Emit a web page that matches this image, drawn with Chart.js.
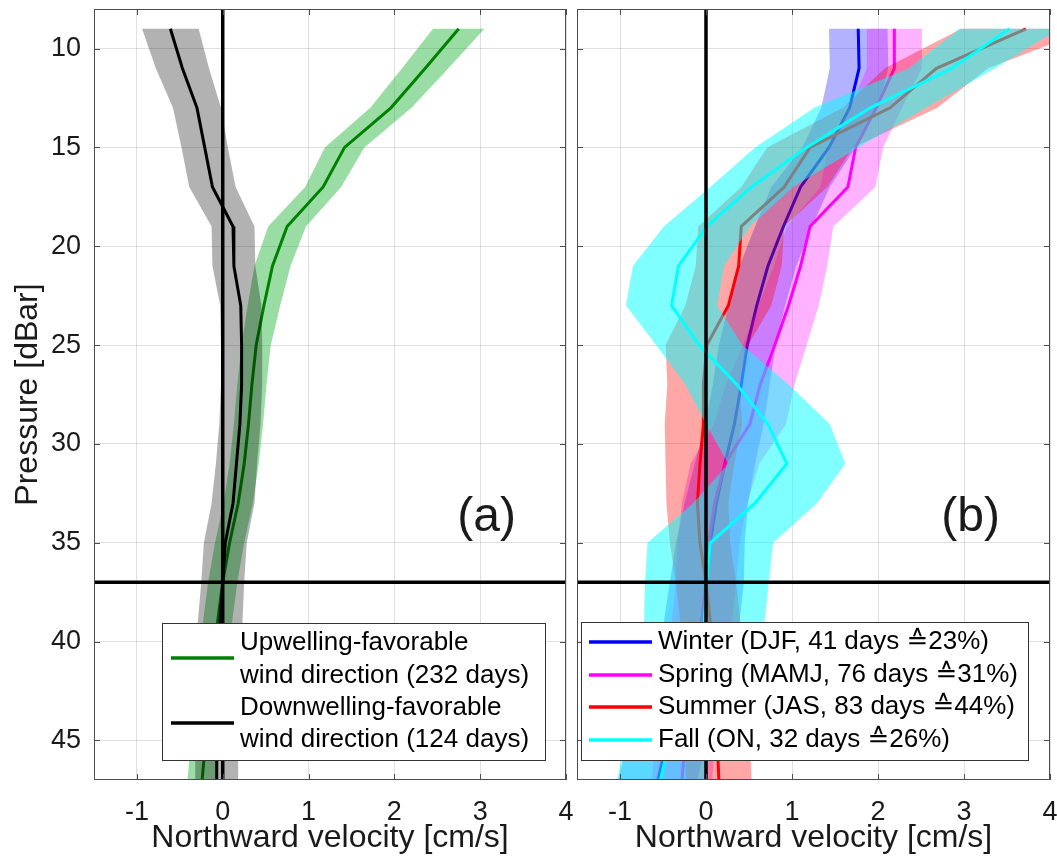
<!DOCTYPE html>
<html>
<head>
<meta charset="utf-8">
<script src="https://cdn.jsdelivr.net/npm/chart.js@4.4.1/dist/chart.umd.min.js"></script>
<style>
  html, body { margin: 0; padding: 0; background: #fff; overflow: hidden; }
  #wrap { position: relative; width: 1057px; height: 865px; }
  canvas { position: absolute; top: 0; }
  #left { left: 0; }
  #right { left: 576px; }
</style>
</head>
<body>
<div id="wrap">
  <canvas id="left" width="576" height="865"></canvas>
  <canvas id="right" width="484" height="865"></canvas>
</div>
<script>
// pressure levels of the profiles [dBar]
const depth = [9, 11, 13, 15, 17, 19, 21, 23, 25, 27, 29, 31, 33, 35, 37, 39, 41, 43, 45, 47];

// (a) wind-direction composites, mean and spread [cm/s]
const upwellMean   = [2.75, 2.36, 1.96, 1.42, 1.17, 0.75, 0.58, 0.48, 0.39, 0.34, 0.30, 0.25, 0.18, 0.08, 0.00, -0.06, -0.10, -0.15, -0.20, -0.24];
const upwellErr    = [0.30, 0.27, 0.24, 0.23, 0.21, 0.22, 0.21, 0.19, 0.17, 0.17, 0.17, 0.17, 0.17, 0.17, 0.17, 0.17, 0.17, 0.17, 0.17, 0.17];
const downwellMean = [-0.61, -0.47, -0.30, -0.21, -0.12, 0.12, 0.13, 0.21, 0.22, 0.22, 0.20, 0.16, 0.12, 0.03, 0.00, -0.03, -0.05, -0.06, -0.07, -0.07];
const downwellErr  = [0.33, 0.31, 0.28, 0.27, 0.27, 0.25, 0.25, 0.24, 0.24, 0.24, 0.24, 0.24, 0.25, 0.25, 0.25, 0.26, 0.26, 0.26, 0.25, 0.25];

// (b) seasonal composites [cm/s]
const winterMean = [1.77, 1.78, 1.67, 1.43, 1.10, 0.90, 0.72, 0.59, 0.48, 0.41, 0.33, 0.22, 0.12, 0.05, 0.01, -0.05, -0.16, -0.31, -0.45, -0.56];
const winterErr  = [0.34, 0.34, 0.33, 0.31, 0.34, 0.33, 0.33, 0.33, 0.33, 0.33, 0.34, 0.35, 0.37, 0.40, 0.43, 0.44, 0.45, 0.45, 0.46, 0.46];
const springMean = [2.19, 2.19, 1.98, 1.74, 1.65, 1.21, 1.10, 0.96, 0.80, 0.63, 0.51, 0.22, 0.10, 0.03, 0.00, -0.05, -0.12, -0.18, -0.24, -0.28];
const springErr  = [0.32, 0.32, 0.30, 0.32, 0.32, 0.27, 0.31, 0.35, 0.37, 0.40, 0.42, 0.40, 0.38, 0.36, 0.35, 0.35, 0.35, 0.35, 0.35, 0.35];
const summerMean = [3.72, 2.68, 2.14, 1.21, 0.91, 0.41, 0.38, 0.26, 0.01, -0.03, -0.03, -0.07, -0.10, -0.07, 0.00, 0.05, 0.08, 0.10, 0.13, 0.15];
const summerErr  = [0.75, 0.60, 0.55, 0.50, 0.50, 0.50, 0.50, 0.50, 0.48, 0.42, 0.45, 0.40, 0.36, 0.35, 0.35, 0.35, 0.36, 0.37, 0.38, 0.38];
const fallMean   = [3.53, 2.86, 1.91, 1.17, 0.53, 0.01, -0.32, -0.40, -0.08, 0.36, 0.72, 0.94, 0.57, 0.05, 0.01, -0.02, -0.15, -0.28, -0.42, -0.53];
const fallErr    = [0.58, 0.50, 0.65, 0.60, 0.48, 0.50, 0.53, 0.53, 0.50, 0.60, 0.72, 0.68, 0.72, 0.73, 0.72, 0.70, 0.62, 0.56, 0.52, 0.50];

// axes
const velRange = [-1.5, 4];
const velStep = 1;
const depthRange = [8, 47];
const depthStep = 5;
const refDepth = 37;

// texts
const xTitle = 'Northward velocity [cm/s]';
const yTitle = 'Pressure [dBar]';
const windLabels = [['Upwelling-favorable', 'wind direction (232 days)'], ['Downwelling-favorable', 'wind direction (124 days)']];
const seasonLabels = ['Winter (DJF, 41 days \u225923%)', 'Spring (MAMJ, 76 days \u225931%)', 'Summer (JAS, 83 days \u225944%)', 'Fall (ON, 32 days \u225926%)'];

const FONT = '"Liberation Sans", Arial, "DejaVu Sans", sans-serif';
const INK = '#1a1a1a';

const profile = mean => mean.map((v, i) => ({ x: v, y: depth[i] }));
// closed polygon: left edge going down, right edge coming back up
const band = (mean, err) => mean.map((v, i) => ({ x: v - err[i], y: depth[i] }))
  .concat(mean.map((v, i) => ({ x: v + err[i], y: depth[i] })).reverse());

const lineSet = (data, color, w) => ({ data, borderColor: color, borderWidth: w, pointRadius: 0, fill: false, tension: 0 });
const bandSet = (data, color) => ({ data, borderWidth: 0, borderColor: 'rgba(0,0,0,0)', backgroundColor: color, pointRadius: 0, fill: 'shape', tension: 0 });

const zeroLine = [{ x: 0, y: depthRange[0] }, { x: 0, y: depthRange[1] }];
const refLine = [{ x: velRange[0], y: refDepth }, { x: velRange[1], y: refDepth }];

// listed in painting order; first one ends up at the bottom
function stack(list) {
  return list.map((d, k) => Object.assign(d, { order: -k }));
}

const panelDecor = {
  id: 'panelDecor',
  afterDatasetsDraw(chart, args, opts) {
    const { ctx, chartArea: ca, scales: { x, y } } = chart;
    ctx.save();
    // inward ticks on all four sides, then the box
    ctx.strokeStyle = '#4d4d4d';
    ctx.lineWidth = 1;
    ctx.beginPath();
    x.ticks.forEach(t => {
      const px = Math.round(x.getPixelForValue(t.value)) + 0.5;
      ctx.moveTo(px, ca.bottom); ctx.lineTo(px, ca.bottom - 6);
      ctx.moveTo(px, ca.top); ctx.lineTo(px, ca.top + 6);
    });
    y.ticks.forEach(t => {
      const py = Math.round(y.getPixelForValue(t.value)) + 0.5;
      ctx.moveTo(ca.left, py); ctx.lineTo(ca.left + 6, py);
      ctx.moveTo(ca.right, py); ctx.lineTo(ca.right - 6, py);
    });
    ctx.stroke();
    ctx.strokeRect(ca.left + 0.5, ca.top + 0.5, ca.width - 1, ca.height - 1);

    // panel letter
    ctx.fillStyle = INK;
    ctx.font = '48px ' + FONT;
    ctx.textAlign = 'right';
    ctx.textBaseline = 'middle';
    ctx.fillText(opts.letter, ca.right - 50, ca.top + 509);

    // legend box
    const lg = opts.legend;
    ctx.fillStyle = '#fff';
    ctx.fillRect(lg.x, lg.y, lg.w, lg.h);
    ctx.strokeStyle = '#333';
    ctx.strokeRect(lg.x + 0.5, lg.y + 0.5, lg.w, lg.h);
    ctx.font = '26px ' + FONT;
    ctx.textAlign = 'left';
    ctx.fillStyle = '#000';
    lg.items.forEach(it => {
      ctx.strokeStyle = it.color;
      ctx.lineWidth = 3.5;
      ctx.beginPath();
      ctx.moveTo(lg.sx0, it.sy);
      ctx.lineTo(lg.sx1, it.sy);
      ctx.stroke();
      it.lines.forEach((s, j) => ctx.fillText(s, lg.tx, it.ty[j]));
    });
    ctx.restore();
  }
};

function axes(showY) {
  const tickFont = { family: FONT, size: 27 };
  return {
    x: {
      type: 'linear', min: velRange[0], max: velRange[1],
      ticks: { stepSize: velStep, includeBounds: false, color: INK, font: tickFont, padding: 16, maxRotation: 0 },
      grid: { color: 'rgba(0,0,0,0.12)', drawTicks: false },
      border: { display: false },
      title: { display: true, text: xTitle, color: INK, font: { family: FONT, size: 32 }, padding: { top: 0, bottom: 8 } },
      // keep the plot box fixed: no extra room for edge labels
      afterFit: s => { s.height = 85; s.paddingLeft = 0; s.paddingRight = 0; }
    },
    y: {
      type: 'linear', reverse: true, min: depthRange[0], max: depthRange[1],
      ticks: { display: showY, stepSize: depthStep, includeBounds: false, color: INK, font: tickFont, padding: 13 },
      grid: { color: 'rgba(0,0,0,0.12)', drawTicks: false },
      border: { display: false },
      title: { display: showY, text: yTitle, color: INK, font: { family: FONT, size: 32 }, padding: { top: 9, bottom: 0 } },
      afterFit: s => { s.width = showY ? 94 : 1; s.paddingTop = 0; s.paddingBottom = 0; }
    }
  };
}

function makeChart(id, datasets, pad, decor, showY) {
  return new Chart(document.getElementById(id), {
    type: 'line',
    data: { datasets },
    options: {
      responsive: false,
      animation: false,
      events: [],
      layout: { padding: pad },
      scales: axes(showY),
      plugins: { legend: { display: false }, tooltip: { enabled: false }, panelDecor: decor }
    },
    plugins: [panelDecor]
  });
}

makeChart('left', stack([
  bandSet(band(upwellMean, upwellErr), 'rgba(0,170,30,0.4)'),
  lineSet(profile(upwellMean), '#008000', 3),
  bandSet(band(downwellMean, downwellErr), 'rgba(0,0,0,0.3)'),
  lineSet(profile(downwellMean), '#000', 3),
  lineSet(zeroLine, '#000', 3.5),
  lineSet(refLine, '#000', 3.5)
]), { top: 9, right: 10, left: 0, bottom: 0 }, {
  letter: '(a)',
  legend: {
    x: 162, y: 623, w: 383, h: 137, sx0: 171, sx1: 234, tx: 240,
    items: [
      { color: '#008000', sy: 658, lines: windLabels[0], ty: [643, 676] },
      { color: '#000', sy: 723, lines: windLabels[1], ty: [708, 740] }
    ]
  }
}, true);

makeChart('right', stack([
  bandSet(band(winterMean, winterErr), 'rgba(0,0,255,0.3)'),
  lineSet(profile(winterMean), '#0000ff', 3),
  bandSet(band(springMean, springErr), 'rgba(255,0,255,0.3)'),
  lineSet(profile(springMean), '#ff00ff', 3),
  bandSet(band(summerMean, summerErr), 'rgba(255,0,0,0.35)'),
  lineSet(profile(summerMean), '#ff0000', 3),
  bandSet(band(fallMean, fallErr), 'rgba(0,255,255,0.5)'),
  lineSet(profile(fallMean), '#00ffff', 3),
  lineSet(zeroLine, '#000', 3.5),
  lineSet(refLine, '#000', 3.5)
]), { top: 9, right: 10, left: 0, bottom: 0 }, {
  letter: '(b)',
  legend: {
    x: 5, y: 622, w: 447, h: 138, sx0: 13, sx1: 76, tx: 82,
    items: [
      { color: '#0000ff', sy: 642, lines: [seasonLabels[0]], ty: [642] },
      { color: '#ff00ff', sy: 675, lines: [seasonLabels[1]], ty: [675] },
      { color: '#ff0000', sy: 707, lines: [seasonLabels[2]], ty: [707] },
      { color: '#00ffff', sy: 740, lines: [seasonLabels[3]], ty: [740] }
    ]
  }
}, false);
</script>
</body>
</html>
